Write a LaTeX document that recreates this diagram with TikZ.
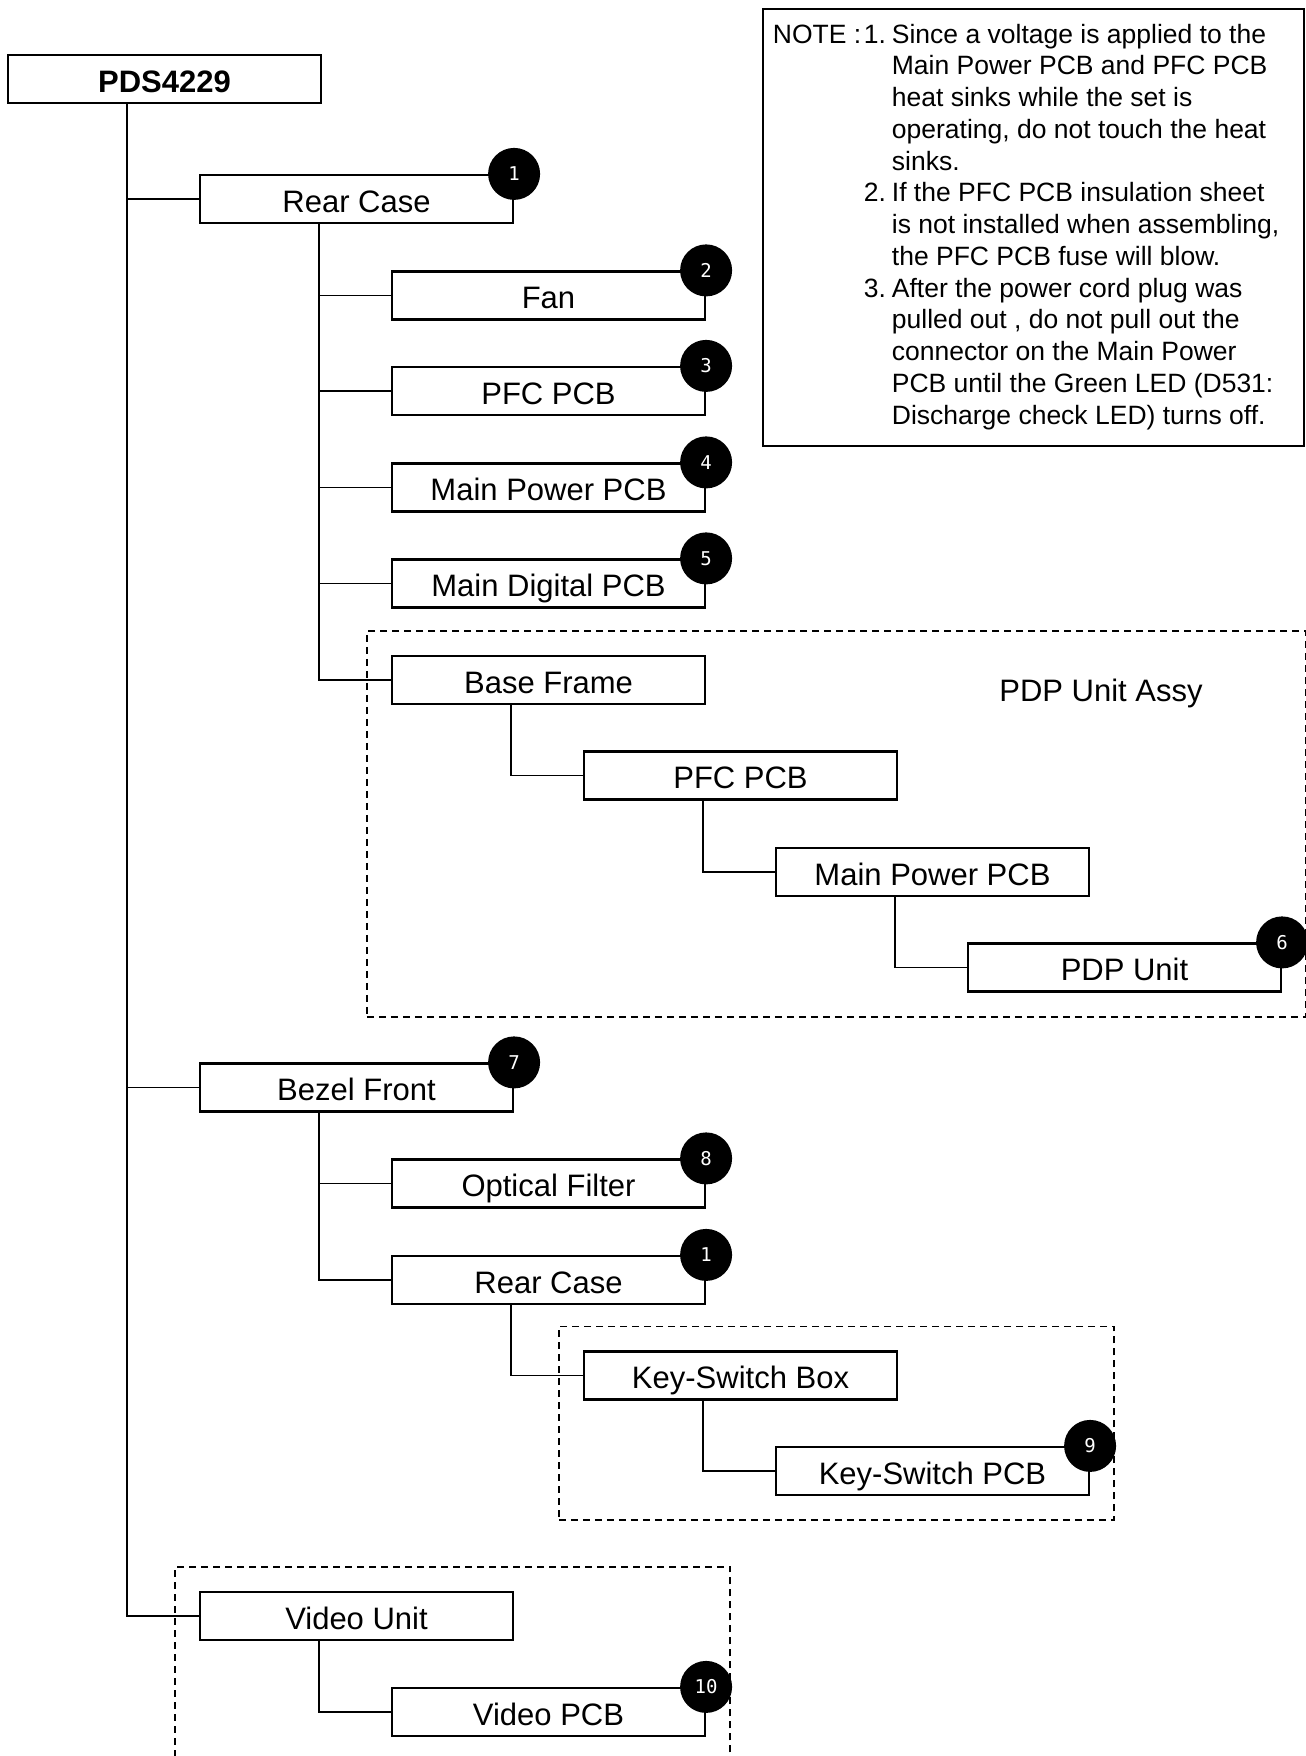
\documentclass[tikz,border=0pt]{standalone}
\usepackage{fontspec}
\setmainfont{Liberation Sans}
\newfontfamily\numfont{DejaVu Sans Mono}
\usepackage{tikz}
\usetikzlibrary{fit,positioning}
\newcommand{\lblfont}{\fontsize{31}{36}\selectfont}
\newcommand{\notefont}{\fontsize{26.5}{31.75}\selectfont}
\tikzset{
  part/.style={rectangle,draw=black,line width=2.2pt,minimum width=313pt,
               minimum height=48pt,inner sep=0pt,font=\lblfont,
               text height=26pt,text depth=0pt,align=center},
  badge/.style={circle,fill=black,minimum size=52pt,inner sep=0pt,
                text=white,font=\numfont\fontsize{19}{19}\selectfont},
  conn/.style={line width=1.6pt,color=black},
  grp/.style={rectangle,draw=black,line width=1.8pt,
              dash pattern=on 7pt off 5pt,inner sep=24pt},
  grplbl/.style={font=\lblfont,text height=26pt,text depth=0pt,inner sep=0pt},
  notebox/.style={rectangle,draw=black,line width=1.8pt,anchor=north west,
                  inner xsep=10pt,inner ysep=12pt,font=\notefont},
}

\begin{document}
\begin{tikzpicture}[x=1pt,y=-1pt]
  \useasboundingbox (0,0) rectangle (1306,1756);

  \node[part,font=\lblfont\bfseries] (pds) at (164.5,79) {PDS4229};
  \foreach \nm/\lv/\yy/\lbl in {
    rear/1/199/Rear Case,
    fan/2/295.5/Fan,
    pfc/2/391/PFC PCB,
    mainpwr/2/487.5/Main Power PCB,
    digital/2/583.5/Main Digital PCB,
    base/2/680/Base Frame,
    pfcb/3/775.5/PFC PCB,
    mainpwrb/4/872/Main Power PCB,
    pdp/5/967.5/PDP Unit,
    bezel/1/1087.5/Bezel Front,
    filter/2/1183.5/Optical Filter,
    rearb/2/1280/Rear Case,
    ksbox/3/1375.5/Key-Switch Box,
    kspcb/4/1471/Key-Switch PCB,
    video/1/1616/Video Unit,
    videopcb/2/1712/Video PCB}{
    \node[part] (\nm) at ({164.5+192*\lv},\yy) {\lbl};
  }

  \foreach \pa/\ch in {pds/rear,pds/bezel,pds/video,
    rear/fan,rear/pfc,rear/mainpwr,rear/digital,rear/base,
    base/pfcb,pfcb/mainpwrb,mainpwrb/pdp,
    bezel/filter,bezel/rearb,rearb/ksbox,ksbox/kspcb,
    video/videopcb}{
    \draw[conn] ([xshift=120pt]\pa.south west) |- (\ch.west);
  }

  \foreach \nm/\num in {rear/1,fan/2,pfc/3,mainpwr/4,digital/5,pdp/6,
    bezel/7,filter/8,rearb/1,kspcb/9,videopcb/10}{
    \node[badge] (\nm-no) at (\nm.north east) {\num};
  }

  \node[grp,fit=(base)(pdp)] (pdpassy) {};
  \node[grplbl] (pdpassylbl) at (1101,688) {PDP Unit Assy};
  \node[grp,fit=(ksbox)(kspcb)] (ksgrp) {};
  \node[grp,fit=(video)(videopcb)] (videogrp) {};

  \node[notebox] (note) at (762,8) {%
    \begin{tabular}{@{}p{91pt}@{}p{28pt}@{}p{402pt}@{}}
      NOTE : & 1. & Since a voltage is applied to the\\
             &    & Main Power PCB and PFC PCB\\
             &    & heat sinks while the set is\\
             &    & operating, do not touch the heat\\
             &    & sinks.\\
             & 2. & If the PFC PCB insulation sheet\\
             &    & is not installed when assembling,\\
             &    & the PFC PCB fuse will blow.\\
             & 3. & After the power cord plug was\\
             &    & pulled out , do not pull out the\\
             &    & connector on the Main Power\\
             &    & PCB until the Green LED (D531:\\
             &    & Discharge check LED) turns off.
    \end{tabular}};
\end{tikzpicture}
\end{document}
